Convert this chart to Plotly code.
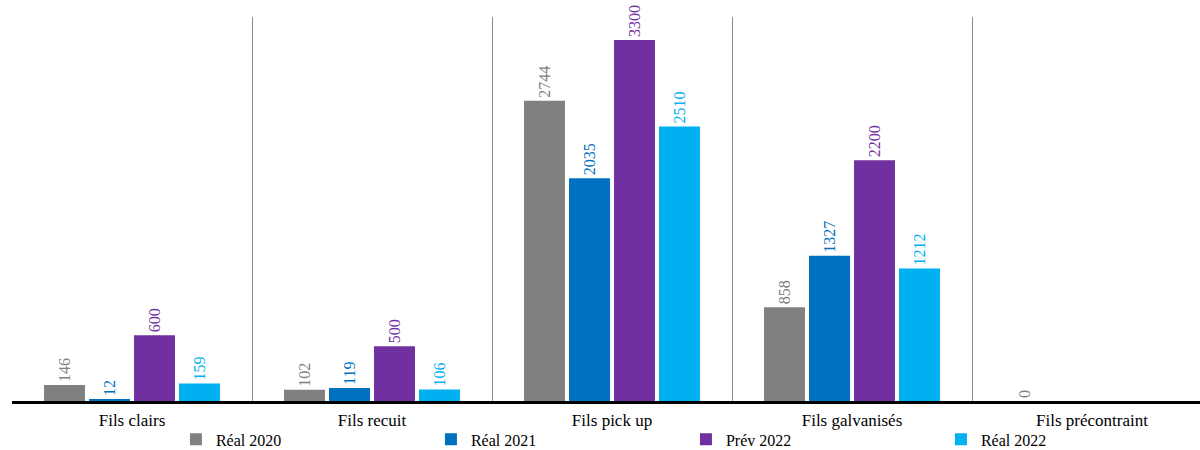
import plotly.graph_objects as go

categories = ["Fils clairs", "Fils recuit", "Fils pick up", "Fils galvanisés", "Fils précontraint"]
series_names = ["Réal 2020", "Réal 2021", "Prév 2022", "Réal 2022"]
reel_2020 = [146, 102, 2744, 858, 0]
reel_2021 = [12, 119, 2035, 1327, None]
prev_2022 = [600, 500, 3300, 2200, None]
reel_2022 = [159, 106, 2510, 1212, None]
colors = ["#808080", "#0070c0", "#7030a0", "#00b0f0"]

FONT = "Liberation Serif"

fig = go.Figure()
for name, vals, col in zip(series_names, [reel_2020, reel_2021, prev_2022, reel_2022], colors):
    fig.add_trace(go.Bar(
        x=categories, y=vals, name=name,
        marker=dict(color=col, line=dict(width=0)),
        text=[("" if v is None else str(v)) for v in vals],
        textposition="outside", textangle=-90,
        textfont=dict(family=FONT, size=16, color=col),
        cliponaxis=False,
    ))

fig.update_layout(
    width=1200, height=450,
    margin=dict(l=12, r=0, t=17, b=49, autoexpand=False),
    paper_bgcolor="white", plot_bgcolor="white",
    barmode="group", bargap=0.25, bargroupgap=0.09,
    font=dict(family=FONT, size=17, color="#000"),
    showlegend=True,
    legend=dict(orientation="h", x=0.138, y=-0.1, xanchor="left", yanchor="middle",
                entrywidth=210, entrywidthmode="pixels",
                bgcolor="rgba(0,0,0,0)", borderwidth=0,
                font=dict(family=FONT, size=16, color="#000"),
                itemwidth=30, traceorder="normal", tracegroupgap=0),
)
fig.update_xaxes(
    type="category", range=[-0.5, 4.45], tickson="boundaries",
    showgrid=True, gridcolor="#8c8c8c", gridwidth=1,
    showline=True, linecolor="#000", linewidth=3,
    ticks="", ticklabelstandoff=2,
    tickfont=dict(family=FONT, size=17, color="#000"),
)
fig.update_yaxes(range=[0, 3510], visible=False, showgrid=False, zeroline=False)

fig.write_html("out.html", config={"displayModeBar": False},
               post_script="document.body.style.margin='0';document.body.style.padding='0';")
